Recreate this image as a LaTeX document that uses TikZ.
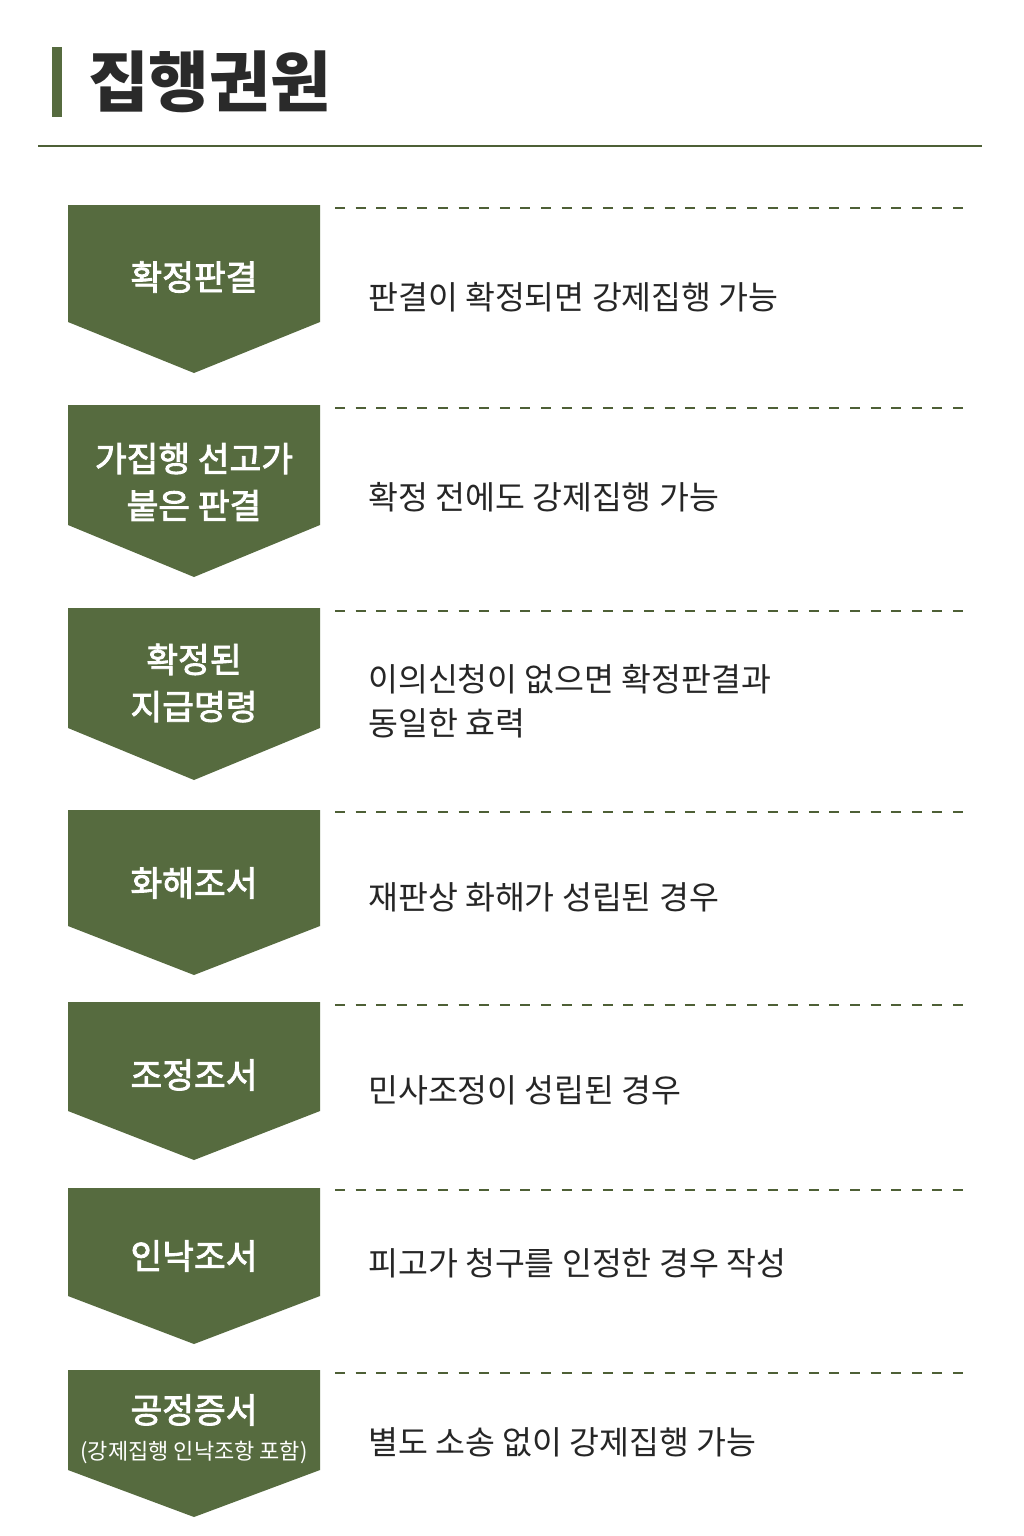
\documentclass[tikz,border=0pt]{standalone}
\usepackage{fontspec}
\setmainfont{Noto Sans CJK KR}
\newfontfamily\krmed[FakeBold=2.5]{Noto Sans CJK KR}
\definecolor{olive}{HTML}{566B3F}
\definecolor{oliveline}{HTML}{4E6036}
\definecolor{titlegray}{HTML}{2A2A2A}
\definecolor{desctext}{HTML}{262626}
\begin{document}
\begin{tikzpicture}[x=1pt,y=-1pt,
  chevron/.style={fill=olive,draw=none},
  boxlabel/.style={text=white,font=\fontsize{34.5}{47}\krmed,align=center,inner sep=0pt},
  sublabel/.style={text=white,font=\fontsize{22}{26}\selectfont,inner sep=0pt},
  desc/.style={text=desctext,font=\fontsize{32.5}{44}\selectfont,anchor=west,align=left,inner sep=0pt},
  sep/.style={draw=oliveline,line width=1.6pt,dash pattern=on 10pt off 10.6pt}]
\useasboundingbox (0,0) rectangle (1024,1536);
\fill[white] (0,0) rectangle (1024,1536);
% title
\fill[olive] (52,47) rectangle (62,117);
\node[anchor=west,inner sep=0pt,text=titlegray,font=\fontsize{66}{72}\selectfont\bfseries] (title) at (88,82) {집행권원};
\draw[oliveline,line width=2pt] (38,146) -- (982,146);
% 1
\path[chevron] (68,205) -- (320,205) -- (320,322) -- (194,373) -- (68,322) -- cycle;
\node[boxlabel] (b1) at (194,277) {확정판결};
\coordinate (s1a) at (335,208); \coordinate (s1b) at (963,208);
\draw[sep] (s1a) -- (s1b);
\node[desc] (d1) at (368,297) {판결이 확정되면 강제집행 가능};
% 2
\path[chevron] (68,405) -- (320,405) -- (320,525) -- (194,577) -- (68,525) -- cycle;
\node[boxlabel] (b2) at (194,482) {가집행 선고가\\붙은 판결};
\coordinate (s2a) at (335,408); \coordinate (s2b) at (963,408);
\draw[sep] (s2a) -- (s2b);
\node[desc] (d2) at (368,497) {확정 전에도 강제집행 가능};
% 3
\path[chevron] (68,608) -- (320,608) -- (320,728) -- (194,780) -- (68,728) -- cycle;
\node[boxlabel] (b3) at (194,683) {확정된\\지급명령};
\coordinate (s3a) at (335,611); \coordinate (s3b) at (963,611);
\draw[sep] (s3a) -- (s3b);
\node[desc] (d3) at (368,701) {이의신청이 없으면 확정판결과\\동일한 효력};
% 4
\path[chevron] (68,810) -- (320,810) -- (320,926) -- (194,975) -- (68,926) -- cycle;
\node[boxlabel] (b4) at (194,883) {화해조서};
\coordinate (s4a) at (335,812); \coordinate (s4b) at (963,812);
\draw[sep] (s4a) -- (s4b);
\node[desc] (d4) at (368,897) {재판상 화해가 성립된 경우};
% 5
\path[chevron] (68,1002) -- (320,1002) -- (320,1111) -- (194,1160) -- (68,1111) -- cycle;
\node[boxlabel] (b5) at (194,1075) {조정조서};
\coordinate (s5a) at (335,1005); \coordinate (s5b) at (963,1005);
\draw[sep] (s5a) -- (s5b);
\node[desc] (d5) at (368,1090) {민사조정이 성립된 경우};
% 6
\path[chevron] (68,1188) -- (320,1188) -- (320,1296) -- (194,1344) -- (68,1296) -- cycle;
\node[boxlabel] (b6) at (194,1256) {인낙조서};
\coordinate (s6a) at (335,1190); \coordinate (s6b) at (963,1190);
\draw[sep] (s6a) -- (s6b);
\node[desc] (d6) at (368,1263) {피고가 청구를 인정한 경우 작성};
% 7
\path[chevron] (68,1370) -- (320,1370) -- (320,1470) -- (194,1517) -- (68,1470) -- cycle;
\node[boxlabel] (b7) at (194,1410) {공정증서};
\node[sublabel] (b7s) at (194,1452) {(강제집행 인낙조항 포함)};
\coordinate (s7a) at (335,1373); \coordinate (s7b) at (963,1373);
\draw[sep] (s7a) -- (s7b);
\node[desc] (d7) at (368,1442) {별도 소송 없이 강제집행 가능};
\end{tikzpicture}
\end{document}
